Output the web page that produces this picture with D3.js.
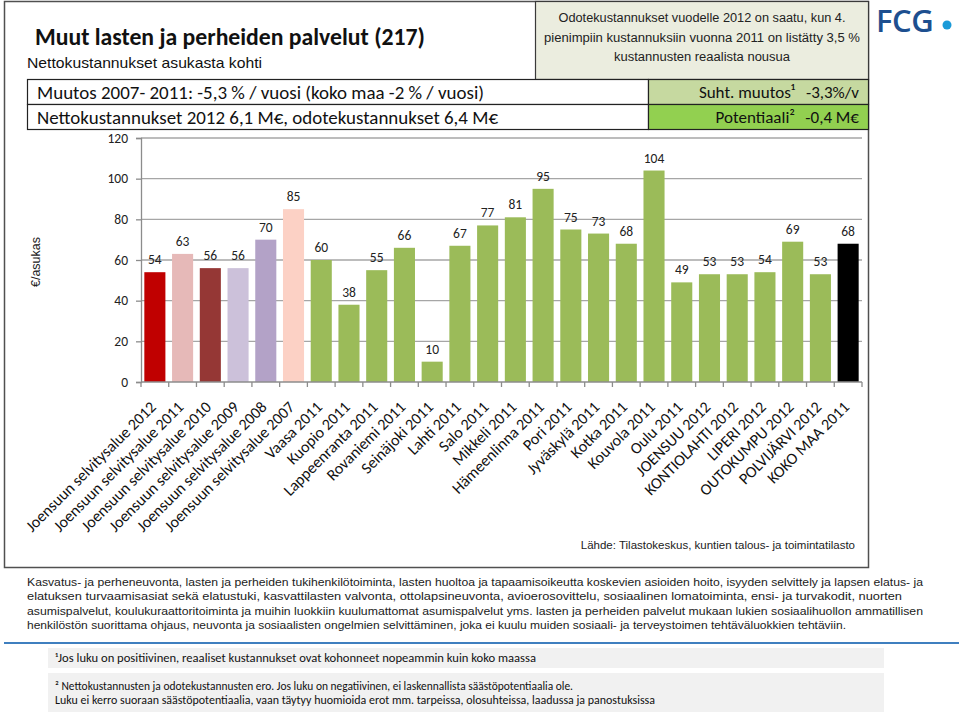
<!DOCTYPE html>
<html><head><meta charset="utf-8">
<script src="https://cdn.jsdelivr.net/npm/d3@7"></script>
<style>
html,body{margin:0;padding:0;background:#fff;}
svg{display:block;}
.cal{font-family:Carlito,Calibri,Lato,"Open Sans",sans-serif;}
.ari{font-family:"Liberation Sans",Arial,sans-serif;}
</style></head><body>
<script>
// ---- data ----
const categories = ["Joensuun selvitysalue 2012","Joensuun selvitysalue 2011","Joensuun selvitysalue 2010","Joensuun selvitysalue 2009","Joensuun selvitysalue 2008","Joensuun selvitysalue 2007","Vaasa 2011","Kuopio 2011","Lappeenranta 2011","Rovaniemi 2011","Seinäjoki 2011","Lahti 2011","Salo 2011","Mikkeli 2011","Hämeenlinna 2011","Pori 2011","Jyväskylä 2011","Kotka 2011","Kouvola 2011","Oulu 2011","JOENSUU 2012","KONTIOLAHTI 2012","LIPERI 2012","OUTOKUMPU 2012","POLVIJÄRVI 2012","KOKO MAA 2011"];
const values = [54,63,56,56,70,85,60,38,55,66,10,67,77,81,95,75,73,68,104,49,53,53,54,69,53,68];
const barColors = ["#c00000","#e6b9b8","#953735","#ccc1da","#b3a2c7","#fcd1c5","#9bbb59","#9bbb59","#9bbb59","#9bbb59","#9bbb59","#9bbb59","#9bbb59","#9bbb59","#9bbb59","#9bbb59","#9bbb59","#9bbb59","#9bbb59","#9bbb59","#9bbb59","#9bbb59","#9bbb59","#9bbb59","#9bbb59","#000000"];
const yTicks = [0,20,40,60,80,100,120];
const titleText = "Muut lasten ja perheiden palvelut (217)";
const subtitleText = "Nettokustannukset  asukasta kohti";
const noteLines = ["Odotekustannukset vuodelle 2012 on saatu, kun 4.","pienimpiin kustannuksiin vuonna 2011 on listätty 3,5 %","kustannusten reaalista nousua"];
const infoRows = ["Muutos 2007- 2011: -5,3 % / vuosi (koko maa -2 % / vuosi)","Nettokustannukset 2012 6,1 M€, odotekustannukset 6,4 M€"];
const kpiLabels = ["Suht. muutos¹","Potentiaali²"];
const kpiValues = ["-3,3%/v","-0,4 M€"];
const yAxisTitle = "€/asukas";
const sourceText = "Lähde: Tilastokeskus, kuntien talous- ja toimintatilasto";
const descLines = ["Kasvatus- ja perheneuvonta, lasten ja perheiden tukihenkilötoiminta, lasten huoltoa ja tapaamisoikeutta koskevien asioiden hoito, isyyden selvittely ja lapsen elatus- ja","elatuksen turvaamisasiat sekä elatustuki, kasvattilasten valvonta, ottolapsineuvonta, avioerosovittelu, sosiaalinen lomatoiminta, ensi- ja turvakodit, nuorten","asumispalvelut, koulukuraattoritoiminta ja muihin luokkiin kuulumattomat asumispalvelut yms. lasten ja perheiden palvelut mukaan lukien sosiaalihuollon ammatillisen","henkilöstön suorittama ohjaus, neuvonta ja sosiaalisten ongelmien selvittäminen, joka ei kuulu muiden sosiaali- ja terveystoimen tehtäväluokkien tehtäviin."];
const foot1 = ["¹Jos luku on positiivinen, reaaliset kustannukset ovat kohonneet nopeammin kuin koko maassa"];
const foot2 = ["² Nettokustannusten ja odotekustannusten ero. Jos luku on negatiivinen, ei laskennallista säästöpotentiaalia ole.","Luku ei kerro suoraan säästöpotentiaalia, vaan täytyy huomioida erot mm. tarpeissa, olosuhteissa, laadussa ja panostuksissa"];

// ---- layout ----
const W = 959, H = 713;
const svg = d3.select("body").append("svg").attr("width", W).attr("height", H);

function fit(sel, w){ sel.attr("textLength", w).attr("lengthAdjust","spacingAndGlyphs"); return sel; }

// outer frame
svg.append("rect").attr("x",4.5).attr("y",1.5).attr("width",864).attr("height",566)
  .attr("fill","none").attr("stroke","#505050").attr("stroke-width",1.5);

// note box
svg.append("rect").attr("x",535.5).attr("y",1.5).attr("width",333).attr("height",78)
  .attr("fill","#ebeddf").attr("stroke","#3a3a3a").attr("stroke-width",1.2);
const noteW = [287, 316, 176];
noteLines.forEach((t,i)=>{
  fit(svg.append("text").attr("class","ari").attr("x",702).attr("y",22+i*19.5)
    .attr("text-anchor","middle").attr("font-size",12.5).attr("fill","#222").text(t), noteW[i]);
});

// title
fit(svg.append("text").attr("class","cal").attr("x",35).attr("y",45)
  .attr("font-size",24).attr("font-weight","bold").attr("fill","#111").text(titleText),390);
fit(svg.append("text").attr("class","ari").attr("x",27).attr("y",68)
  .attr("font-size",15).attr("fill","#111").text(subtitleText),235);

// info rows
const rowY = [79.5,104.5];
rowY.forEach((y,i)=>{
  svg.append("rect").attr("x",27.5).attr("y",y).attr("width",621).attr("height",25)
    .attr("fill","#fff").attr("stroke","#222").attr("stroke-width",1.2);
  svg.append("rect").attr("x",648.5).attr("y",y).attr("width",220).attr("height",25)
    .attr("fill", i===0 ? "#c6d9a0" : "#92d050").attr("stroke","#222").attr("stroke-width",1.2);
  fit(svg.append("text").attr("class","cal").attr("x",37).attr("y",y+19)
    .attr("font-size",18).attr("fill","#111").text(infoRows[i]), i===0?447:461);
  svg.append("text").attr("class","cal").attr("x",795).attr("y",y+18.5)
    .attr("text-anchor","end").attr("font-size",17).attr("fill","#111").text(kpiLabels[i]);
  svg.append("text").attr("class","cal").attr("x",859).attr("y",y+18.5)
    .attr("text-anchor","end").attr("font-size",17).attr("fill","#111").text(kpiValues[i]);
});

// FCG logo
svg.append("text").attr("x",876).attr("y",32).attr("font-family","'Open Sans','Noto Sans',sans-serif")
  .attr("font-size",31).attr("font-weight",600).attr("letter-spacing",-0.5).attr("fill","#1d4f8f").text("FCG");
svg.append("circle").attr("cx",947).attr("cy",25).attr("r",4.5).attr("fill","#1a9ad8");

// ---- chart ----
const plot = {l:141, r:862, t:138, b:382};
const x = d3.scaleBand().domain(categories).range([plot.l, plot.r]).paddingInner(0.24).paddingOuter(0.12);
const y = d3.scaleLinear().domain([0,120]).range([plot.b, plot.t]);

const g = svg.append("g");
// gridlines
g.selectAll("line.grid").data(yTicks.filter(d=>d>0)).join("line")
  .attr("x1",plot.l).attr("x2",plot.r).attr("y1",d=>y(d)).attr("y2",d=>y(d))
  .attr("stroke","#a6a6a6").attr("stroke-width",1.3);

// bars
g.selectAll("rect.bar").data(values).join("rect")
  .attr("x",(d,i)=>x(categories[i])).attr("width",x.bandwidth())
  .attr("y",d=>y(d)).attr("height",d=>y(0)-y(d))
  .attr("fill",(d,i)=>barColors[i]);

// y axis
const yAxis = d3.axisLeft(y).tickValues(yTicks).tickSize(5).tickPadding(8);
const ya = g.append("g").attr("transform",`translate(${plot.l},0)`).call(yAxis);
ya.select(".domain").attr("stroke","#8c8c8c").attr("stroke-width",1.3);
ya.selectAll(".tick line").attr("stroke","#8c8c8c").attr("stroke-width",1.3);
ya.selectAll(".tick text").attr("class","cal").attr("font-size",13.5).attr("fill","#222");

// x axis line + ticks at band boundaries
g.append("line").attr("x1",plot.l).attr("x2",plot.r).attr("y1",plot.b).attr("y2",plot.b)
  .attr("stroke","#8c8c8c").attr("stroke-width",1.3);
const step = x.step();
const bounds = d3.range(categories.length+1).map(i=>x(categories[0]) - (step - x.bandwidth())/2 + i*step);
g.selectAll("line.xt").data(bounds).join("line")
  .attr("x1",d=>d).attr("x2",d=>d).attr("y1",plot.b).attr("y2",plot.b+5)
  .attr("stroke","#8c8c8c").attr("stroke-width",1.3);

// x labels
g.selectAll("text.xl").data(categories).join("text")
  .attr("class","cal")
  .attr("transform",d=>`translate(${x(d)+x.bandwidth()/2+2},${plot.b+26}) rotate(-45)`)
  .attr("text-anchor","end")
  .attr("font-size",16).attr("fill","#111").text(d=>d);

// value labels
g.selectAll("text.vl").data(values).join("text")
  .attr("class","cal")
  .attr("x",(d,i)=>x(categories[i])+x.bandwidth()/2).attr("y",d=>y(d)-8)
  .attr("text-anchor","middle").attr("font-size",13.5).attr("fill","#222").text(d=>d);

// y axis title
svg.append("text").attr("class","ari").attr("transform","translate(40,262) rotate(-90)")
  .attr("text-anchor","middle").attr("font-size",12.5).attr("fill","#222").text(yAxisTitle);

// source
svg.append("text").attr("class","ari").attr("x",855).attr("y",549).attr("text-anchor","end")
  .attr("font-size",11.5).attr("fill","#222").text(sourceText);

// description paragraph
const descW = [896, 875, 896, 819];
descLines.forEach((t,i)=>{
  fit(svg.append("text").attr("class","ari").attr("x",27).attr("y",586+i*14.3)
    .attr("font-size",11).attr("fill","#222").text(t), descW[i]);
});

// blue rule
svg.append("line").attr("x1",4).attr("x2",959).attr("y1",643).attr("y2",643)
  .attr("stroke","#3f7fbf").attr("stroke-width",2);

// footnote boxes
svg.append("rect").attr("x",48).attr("y",648).attr("width",836).attr("height",20).attr("fill","#f1f1f1");
svg.append("rect").attr("x",48).attr("y",673).attr("width",836).attr("height",39).attr("fill","#f1f1f1");
fit(svg.append("text").attr("class","cal").attr("x",55).attr("y",662)
  .attr("font-size",12).attr("fill","#111").text(foot1[0]),481);
const f2w = [518, 600];
foot2.forEach((t,i)=>{
  fit(svg.append("text").attr("class","cal").attr("x",55).attr("y",690+i*14)
    .attr("font-size",12).attr("fill","#111").text(t), f2w[i]);
});
</script>
</body></html>
